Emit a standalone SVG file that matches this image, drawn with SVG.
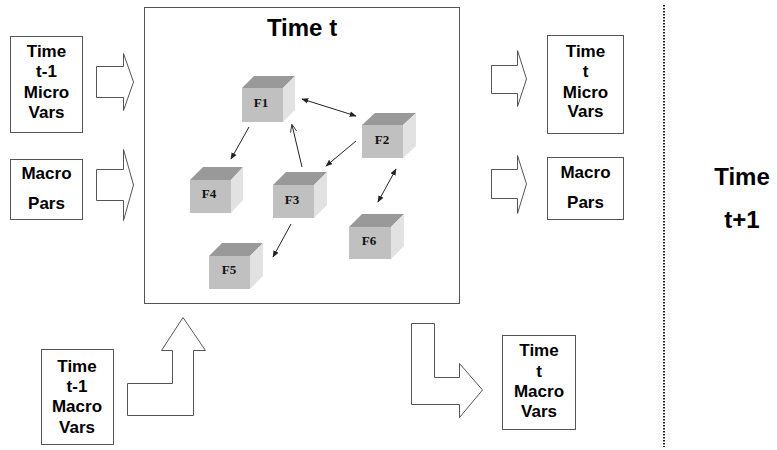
<svg xmlns="http://www.w3.org/2000/svg" width="777" height="450" viewBox="0 0 777 450">
<style>
.box{fill:#fff;stroke:#555;stroke-width:1}
.blk{fill:#fff;stroke:#555;stroke-width:1;stroke-linejoin:miter}
.lbl{font-family:"Liberation Sans",Arial,sans-serif;font-weight:bold;font-size:17px;fill:#000;text-anchor:middle}
.big{font-family:"Liberation Sans",Arial,sans-serif;font-weight:bold;font-size:24px;fill:#000;text-anchor:middle}
.fl{font-family:"Liberation Serif","Times New Roman",serif;font-weight:bold;font-size:13px;fill:#111;text-anchor:middle}
.front{fill:#c0c0c0}
.top{fill:#999}
.side{fill:#e2e2e2}
.con{stroke:#222;stroke-width:1;fill:none}
</style>
<defs>
<marker id="ah" viewBox="0 0 10 10" refX="9" refY="5" markerWidth="7" markerHeight="7" orient="auto-start-reverse" markerUnits="userSpaceOnUse">
<path d="M0,1 L10,5 L0,9 z" fill="#222"/>
</marker>
<marker id="oh" viewBox="0 0 10 10" refX="9" refY="5" markerWidth="8" markerHeight="8" orient="auto" markerUnits="userSpaceOnUse">
<path d="M0,1 L10,5 L0,9" fill="none" stroke="#222" stroke-width="1"/>
</marker>
</defs>
<rect width="777" height="450" fill="#fff"/>

<g id="main-box">
<rect class="box" x="144.5" y="7.5" width="315" height="296"/>
<text class="big" x="302" y="36" font-size="25">Time t</text>
</g>

<g id="in-micro">
<rect class="box" x="10.5" y="36.5" width="72" height="96"/>
<text class="lbl" x="46.5" y="57">Time</text>
<text class="lbl" x="46.5" y="77">t-1</text>
<text class="lbl" x="46.5" y="98">Micro</text>
<text class="lbl" x="46.5" y="118">Vars</text>
</g>
<g id="in-macro-pars">
<rect class="box" x="10.5" y="159.5" width="72" height="60"/>
<text class="lbl" x="46.5" y="179">Macro</text>
<text class="lbl" x="46.5" y="209">Pars</text>
</g>
<g id="in-macro-vars">
<rect class="box" x="41.5" y="349.5" width="72" height="95"/>
<text class="lbl" x="77" y="372">Time</text>
<text class="lbl" x="77" y="392">t-1</text>
<text class="lbl" x="77" y="412">Macro</text>
<text class="lbl" x="77" y="433">Vars</text>
</g>
<g id="out-micro">
<rect class="box" x="547.5" y="35.5" width="76" height="98"/>
<text class="lbl" x="585.5" y="57">Time</text>
<text class="lbl" x="585.5" y="77">t</text>
<text class="lbl" x="585.5" y="98">Micro</text>
<text class="lbl" x="585.5" y="117">Vars</text>
</g>
<g id="out-macro-pars">
<rect class="box" x="547.5" y="157.5" width="76" height="62"/>
<text class="lbl" x="585.5" y="178">Macro</text>
<text class="lbl" x="585.5" y="208">Pars</text>
</g>
<g id="out-macro-vars">
<rect class="box" x="502.5" y="335.5" width="73" height="94"/>
<text class="lbl" x="539" y="356">Time</text>
<text class="lbl" x="539" y="377">t</text>
<text class="lbl" x="539" y="397">Macro</text>
<text class="lbl" x="539" y="417">Vars</text>
</g>
<g id="time-t1">
<text class="big" x="742" y="185">Time</text>
<text class="big" x="742" y="228">t+1</text>
</g>

<g id="block-arrows">
<path class="blk" d="M96.5,66.5 H123.5 V53.5 L133.5,82 L123.5,110.5 V97.5 H96.5 Z"/>
<path class="blk" d="M96.5,169.5 H123.5 V149.5 L133.5,185 L123.5,220.5 V200.5 H96.5 Z"/>
<path class="blk" d="M491.5,65.5 H517.5 V50.5 L526.5,79 L517.5,106.5 V93.5 H491.5 Z"/>
<path class="blk" d="M491.5,169.5 H517.5 V155.5 L526.5,184 L517.5,213.5 V198.5 H491.5 Z"/>
<path class="blk" d="M127.5,415.5 V383.5 H172.5 V350.5 H161.5 L183,317.5 L205.5,350.5 H193.5 V415.5 Z"/>
<path class="blk" d="M411.5,323.5 H434.5 V377.5 H459.5 V363.5 L482.5,390 L459.5,417.5 V404.5 H411.5 Z"/>
</g>

<line x1="664" y1="5" x2="664" y2="447" stroke="#222" stroke-width="2" stroke-dasharray="1.5,1.5"/>

<g id="F1">
<path class="top" d="M242,88 L254,76 H295 L283,88 Z"/>
<path class="side" d="M283,88 L295,76 V110 L283,122 Z"/>
<rect class="front" x="242" y="88" width="41" height="34"/>
<text class="fl" x="261" y="107">F1</text>
</g>
<g id="F2">
<path class="top" d="M362,125 L375,113 H416 L403,125 Z"/>
<path class="side" d="M403,125 L416,113 V146 L403,158 Z"/>
<rect class="front" x="362" y="125" width="41" height="33"/>
<text class="fl" x="382" y="144">F2</text>
</g>
<g id="F3">
<path class="top" d="M273,185 L286,172 H327 L314,185 Z"/>
<path class="side" d="M314,185 L327,172 V205 L314,218 Z"/>
<rect class="front" x="273" y="185" width="41" height="33"/>
<text class="fl" x="292" y="204">F3</text>
</g>
<g id="F4">
<path class="top" d="M190,180 L203,167 H243 L231,180 Z"/>
<path class="side" d="M231,180 L243,167 V200 L231,213 Z"/>
<rect class="front" x="190" y="180" width="41" height="33"/>
<text class="fl" x="209" y="198">F4</text>
</g>
<g id="F5">
<path class="top" d="M209,256 L222,243 H263 L250,256 Z"/>
<path class="side" d="M250,256 L263,243 V276 L250,289 Z"/>
<rect class="front" x="209" y="256" width="41" height="33"/>
<text class="fl" x="229" y="274">F5</text>
</g>
<g id="F6">
<path class="top" d="M349,227 L362,214 H404 L391,227 Z"/>
<path class="side" d="M391,227 L404,214 V246 L391,259 Z"/>
<rect class="front" x="349" y="227" width="42" height="32"/>
<text class="fl" x="369" y="245">F6</text>
</g>

<g id="connectors">
<line class="con" x1="302" y1="99" x2="356" y2="116" marker-start="url(#ah)" marker-end="url(#ah)"/>
<line class="con" x1="249" y1="127" x2="231" y2="159" marker-end="url(#ah)"/>
<line class="con" x1="302" y1="167" x2="292" y2="125" marker-end="url(#oh)"/>
<line class="con" x1="356" y1="141" x2="326" y2="166" marker-end="url(#ah)"/>
<line class="con" x1="396" y1="169" x2="378" y2="202" marker-start="url(#ah)" marker-end="url(#ah)"/>
<line class="con" x1="291" y1="224" x2="273" y2="257" marker-end="url(#ah)"/>
</g>
</svg>
